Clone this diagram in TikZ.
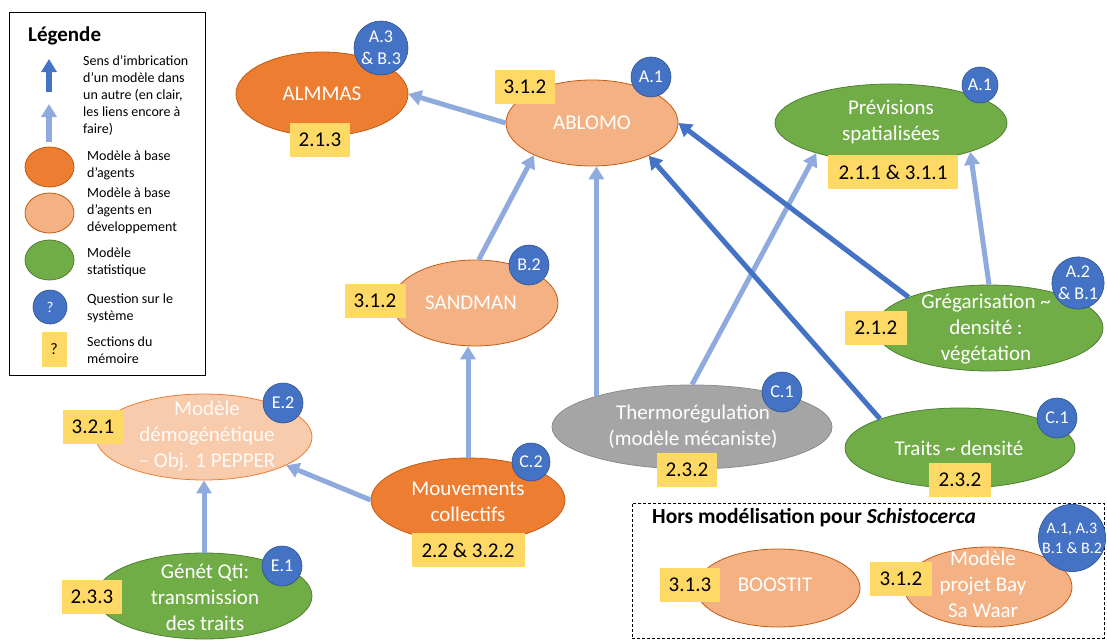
\documentclass[tikz,border=0pt]{standalone}
\usepackage{fontspec}
\setmainfont{Carlito}
\usetikzlibrary{shapes.geometric,arrows.meta}

\definecolor{cOrange}{HTML}{ED7D31}
\definecolor{cOrangeLine}{HTML}{C55A11}
\definecolor{cPeach}{HTML}{F4B183}
\definecolor{cPale}{HTML}{F8CBAD}
\definecolor{cGreen}{HTML}{70AD47}
\definecolor{cGreenLine}{HTML}{507E32}
\definecolor{cGrey}{HTML}{A5A5A5}
\definecolor{cGreyLine}{HTML}{8C8C8C}
\definecolor{cBlue}{HTML}{4472C4}
\definecolor{cBlueLine}{HTML}{2F528F}
\definecolor{cLight}{HTML}{8FAADC}
\definecolor{cYellow}{HTML}{FFD966}

\begin{document}
\begin{tikzpicture}[x=1pt,y=-1pt,
  model/.style={ellipse, inner sep=0pt, line width=0.8pt},
  abm/.style={model, fill=cOrange, draw=cOrangeLine},
  abmdev/.style={model, fill=cPeach, draw=cOrangeLine},
  abmpale/.style={model, fill=cPale, draw=cOrange},
  stat/.style={model, fill=cGreen, draw=cGreenLine},
  mech/.style={model, fill=cGrey, draw=cGreyLine},
  mtext/.style={align=center, text=white, inner sep=0pt, font=\fontsize{21}{26}\selectfont},
  badge/.style={circle, fill=cBlue, draw=cBlueLine, line width=0.6pt, text=white,
    inner sep=0pt, minimum size=40pt, align=center, font=\fontsize{18}{22}\selectfont},
  sect/.style={fill=cYellow, text=black, inner sep=0pt, minimum height=34pt,
    font=\fontsize{21}{25}\selectfont},
  todo/.style={line width=5pt, draw=cLight, -{Triangle[width=15pt,length=13pt]}},
  done/.style={line width=5pt, draw=cBlue, -{Triangle[width=15pt,length=13pt]}},
  legtext/.style={anchor=west, align=left, inner sep=0pt, font=\fontsize{14}{17}\selectfont},
]
\useasboundingbox (0,0) rectangle (1107,642);

% ---------- legend ----------
\node[draw=black, line width=0.8pt, minimum width=196pt, minimum height=363pt,
      anchor=north west, inner sep=0pt] (legend) at (9,12) {};
\node[anchor=west, inner sep=0pt, font=\bfseries\fontsize{21}{25}\selectfont] (legtitle) at (28,36) {Légende};
\coordinate (lgDarkA) at (49,92);  \coordinate (lgDarkB) at (49,59);
\coordinate (lgLightA) at (49,142); \coordinate (lgLightB) at (49,104);
\draw[done, line width=6pt] (lgDarkA) -- (lgDarkB);
\draw[todo, line width=6pt] (lgLightA) -- (lgLightB);
\node[legtext] (lgT1) at (83,95.5) {Sens d’imbrication\\d’un modèle dans\\un autre (en clair,\\les liens encore à\\faire)};
\node[abm, minimum width=49pt, minimum height=40pt] (lgAbm) at (49.5,167) {};
\node[legtext] (lgT2) at (87,165) {Modèle à base\\d’agents};
\node[abmdev, minimum width=49pt, minimum height=40pt] (lgDev) at (49.5,213) {};
\node[legtext] (lgT3) at (87,211) {Modèle à base\\d’agents en\\développement};
\node[stat, minimum width=49pt, minimum height=40pt] (lgStat) at (49.5,260) {};
\node[legtext] (lgT4) at (87,262.5) {Modèle\\statistique};
\node[badge, minimum size=34pt, font=\fontsize{15}{18}\selectfont] (lgQ) at (50,307) {?};
\node[legtext] (lgT5) at (87,308.5) {Question sur le\\système};
\node[sect, minimum width=25pt, minimum height=35pt, font=\fontsize{16}{19}\selectfont] (lgS) at (54,349) {?};
\node[legtext] (lgT6) at (87,350) {Sections du\\mémoire};

% ---------- area outside the Schistocerca models ----------
\node[draw=black, line width=0.8pt, dash pattern=on 3pt off 2pt, anchor=north west,
      minimum width=472pt, minimum height=135pt, inner sep=0pt] (hors) at (632,503) {};
\node[anchor=west, inner sep=0pt, font=\bfseries\fontsize{21.5}{25}\selectfont] (horstitle) at (652,518)
  {Hors modélisation pour \textit{Schistocerca}};

% ---------- models ----------
\node[abm,    minimum width=172pt, minimum height=84pt] (almmas)  at (322,94)  {};
\node[abmdev, minimum width=172pt, minimum height=86pt] (ablomo)  at (592,123) {};
\node[stat,   minimum width=232pt, minimum height=78pt] (prev)    at (891,123) {};
\node[abmdev, minimum width=166pt, minimum height=86pt] (sandman) at (475,303) {};
\node[stat,   minimum width=228pt, minimum height=86pt] (greg)    at (989,328) {};
\node[abmpale,minimum width=216pt, minimum height=86pt] (demo)    at (204,437) {};
\node[abm,    minimum width=194pt, minimum height=84pt] (mouv)    at (468,500) {};
\node[mech,   minimum width=280pt, minimum height=84pt] (thermo)  at (692,427) {};
\node[stat,   minimum width=230pt, minimum height=80pt] (traits)  at (960,448) {};
\node[stat,   minimum width=216pt, minimum height=86pt] (genet)   at (204,596) {};
\node[abmdev, minimum width=164pt, minimum height=78pt] (boostit) at (778,588) {};
\node[abmdev, minimum width=168pt, minimum height=80pt] (bay)     at (988,587) {};

\node[mtext] (almmasT)  at (322,94)  {ALMMAS};
\node[mtext] (ablomoT)  at (592,123) {ABLOMO};
\node[mtext] (prevT)    at (891,122) {Prévisions\\spatialisées};
\node[mtext] (sandmanT) at (471,303) {SANDMAN};
\node[mtext] (gregT)    at (986,329) {Grégarisation \textasciitilde\\densité :\\végétation};
\node[mtext, text=white!90!cPale] (demoT) at (207,436) {Modèle\\démogénétique\\– Obj. 1 PEPPER};
\node[mtext] (mouvT)    at (468,502) {Mouvements\\collectifs};
\node[mtext] (thermoT)  at (693,427) {Thermorégulation\\(modèle mécaniste)};
\node[mtext] (traitsT)  at (959,448) {Traits \textasciitilde{} densité};
\node[mtext] (genetT)   at (205,597) {Génét Qti:\\transmission\\des traits};
\node[mtext] (boostitT) at (775,585) {BOOSTIT};
\node[mtext] (bayT)     at (983,584) {Modèle\\projet Bay\\Sa Waar};

% ---------- nesting links ----------
\draw[todo] (ablomo.west) -- (almmas.east);
\draw[todo] (sandman.85) -- (ablomo.209);
\draw[todo] (thermo.162) -- (thermo.162 |- ablomo.south);
\draw[todo] (thermo.north) -- (prev.202);
\draw[done] (greg.159) -- (ablomo.east);
\draw[done] (traits.160) -- (ablomo.-30);
\draw[todo] (greg.north) -- (prev.-20);
\draw[todo] (mouv.north) -- (mouv.north |- sandman.south);
\draw[todo] (mouv.west) -- (demo.-19);
\draw[todo] (genet.north) -- (genet.north |- demo.south);

% ---------- report sections ----------
\node[sect, minimum width=60pt]  (sAlmmas)  at (320,140) {2.1.3};
\node[sect, minimum width=60pt]  (sAblomo)  at (525,87)  {3.1.2};
\node[sect, minimum width=130pt] (sPrev)    at (893,172) {2.1.1 \& 3.1.1};
\node[sect, minimum width=61pt]  (sSandman) at (375,301) {3.1.2};
\node[sect, minimum width=62pt]  (sGreg)    at (876,328) {2.1.2};
\node[sect, minimum width=60pt]  (sDemo)    at (93,427)  {3.2.1};
\node[sect, minimum width=113pt] (sMouv)    at (468,550) {2.2 \& 3.2.2};
\node[sect, minimum width=60pt]  (sThermo)  at (687,470) {2.3.2};
\node[sect, minimum width=62pt]  (sTraits)  at (960,480) {2.3.2};
\node[sect, minimum width=60pt]  (sGenet)   at (92,597)  {2.3.3};
\node[sect, minimum width=60pt]  (sBoostit) at (690,585) {3.1.3};
\node[sect, minimum width=62pt]  (sBay)     at (901,579) {3.1.2};

% ---------- questions ----------
\node[badge, minimum size=54pt] (qAlmmas)  at (381,48)  {A.3\\\& B.3};
\node[badge]                    (qAblomo)  at (651,77)  {A.1};
\node[badge, minimum size=36pt] (qPrev)    at (980,85)  {A.1};
\node[badge]                    (qSandman) at (529,265) {B.2};
\node[badge, minimum size=50pt] (qGreg)    at (1078,283) {A.2\\\& B.1};
\node[badge]                    (qDemo)    at (283,403) {E.2};
\node[badge, minimum size=38pt] (qMouv)    at (531,462) {C.2};
\node[badge]                    (qThermo)  at (782,392) {C.1};
\node[badge]                    (qTraits)  at (1057,418) {C.1};
\node[badge]                    (qGenet)   at (282,566) {E.1};
\node[badge, minimum size=66pt, font=\fontsize{16}{20}\selectfont] (qBay) at (1072,538) {A.1, A.3\\B.1 \& B.2};
\end{tikzpicture}
\end{document}
